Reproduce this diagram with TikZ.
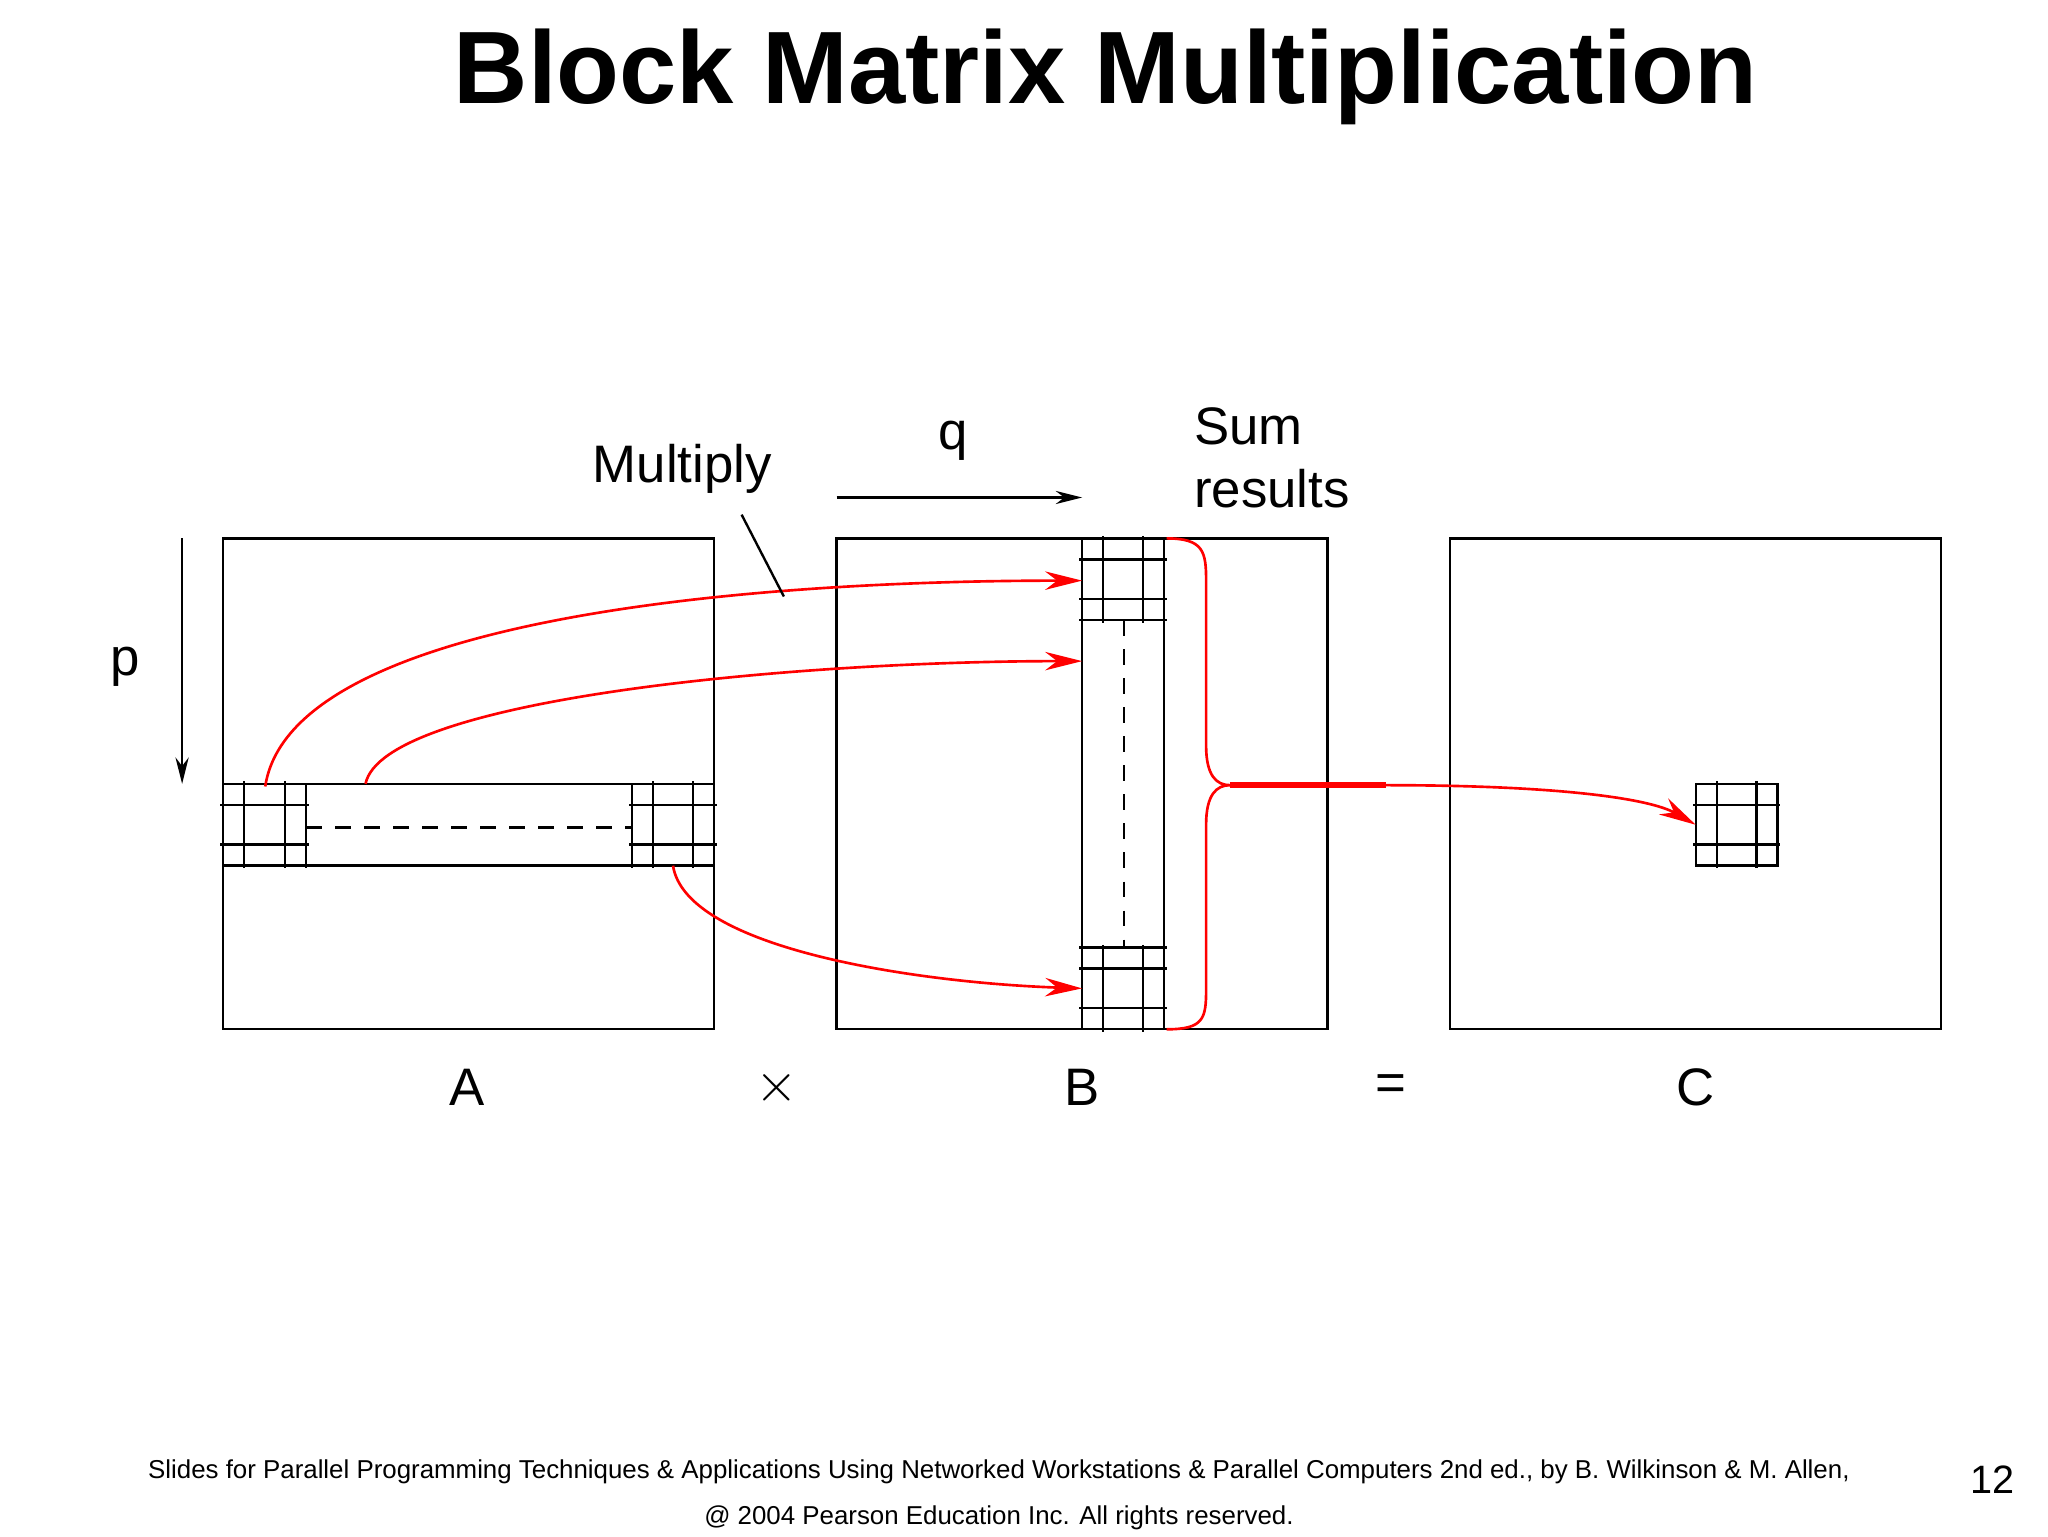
\documentclass[tikz,border=0pt]{standalone}
\usepackage{fontspec}
\setmainfont{Liberation Sans}
\usetikzlibrary{arrows.meta}
\begin{document}
\begin{tikzpicture}[x=0.5pt,y=-0.5pt,
  mat/.style={draw,line width=0.9pt},
  gl/.style={line width=0.9pt},
  red/.style={draw=red,line width=1pt,-{Stealth[length=14pt,width=7pt]}},
  lab/.style={font=\fontsize{20}{24}\selectfont},
  bk/.style={-{Stealth[length=10pt,width=5pt]},line width=0.9pt}]
\useasboundingbox (0,0) rectangle (1552,1164);
\node[font=\fontsize{39}{46}\selectfont\bfseries] (title) at (838,58) {Block Matrix Multiplication};
% matrices
\draw[mat] (169,408) rectangle (541,780) coordinate (Abr);
\draw[mat] (634,408) rectangle (1006,780);
\draw[mat] (1099,408) rectangle (1471,780);
% A row band
\draw[gl] (169,594) rectangle (541,656);
\draw[gl] (232,594)--(232,658) (479,594)--(479,658);
\foreach \x in {185,216,495,525} \draw[gl] (\x,592)--(\x,658);
\foreach \y in {610,640} {\draw[gl] (167,\y)--(234,\y); \draw[gl] (477,\y)--(543,\y);}
\draw[gl,dash pattern=on 6pt off 5pt] (232,627)--(479,627);
% B column band
\draw[gl] (820,408) rectangle (882,780);
\draw[gl] (818,470)--(884,470) (818,718)--(884,718);
\foreach \x in {836,866} {\draw[gl] (\x,406)--(\x,472); \draw[gl] (\x,716)--(\x,782);}
\foreach \y in {424,454,734,764} \draw[gl] (818,\y)--(884,\y);
\draw[gl,dash pattern=on 6pt off 5pt] (852,470)--(852,718);
% C block
\draw[gl] (1285,594) rectangle (1347,656);
\foreach \x in {1301,1331} \draw[gl] (\x,592)--(\x,658);
\foreach \y in {610,640} \draw[gl] (1283,\y)--(1349,\y);
\coordinate (a1) at (201,596); \coordinate (b1) at (820,440);
\coordinate (a2) at (277,594); \coordinate (b2) at (820,501);
\coordinate (a3) at (510,656); \coordinate (b3) at (820,749);
\coordinate (c1) at (1050,595); \coordinate (c2) at (1285,625);
\draw[red] (a1) .. controls (220,470) and (560,440) .. (b1);
\draw[red] (a2) .. controls (290,530) and (600,501) .. (b2);
\draw[red] (a3) .. controls (520,720) and (700,745) .. (b3);
% brace
\draw[red,-] (884,408) .. controls (912,408) and (914,418) .. (914,440) -- (914,565) .. controls (914,588) and (922,595) .. (932,595) .. controls (922,595) and (914,602) .. (914,625) -- (914,750) .. controls (914,772) and (912,780) .. (884,780);
\draw[draw=red,line width=2.5pt] (932,595)--(c1);
\draw[red] (c1) .. controls (1180,595) and (1250,605) .. (c2);
% p, q
\coordinate (p1) at (138,408); \coordinate (p2) at (138,594);
\draw[bk] (p1)--(p2);
\node[lab] (p) at (95,505) {p};
\coordinate (q1) at (634,377); \coordinate (q2) at (820,377);
\draw[bk] (q1)--(q2);
\node[lab] (q) at (722,334) {q};
\node[lab] (mul) at (517,355) {Multiply};
\coordinate (m1) at (562,390); \coordinate (m2) at (594,452);
\draw[line width=0.9pt] (m1)--(m2);
\node[lab,align=left,anchor=west] (sum) at (898,347) {Sum\\results};
\node[lab] (A) at (354,824) {A};
\node[lab] (x) at (589,824) {$\times$};
\node[lab] (B) at (820,824) {B};
\node[lab] (eq) at (1054,824) {=};
\node[lab] (C) at (1285,824) {C};
\node[font=\fontsize{9.8}{12}\selectfont] (f1) at (757,1115) {Slides for Parallel Programming Techniques \& Applications Using Networked Workstations \& Parallel Computers 2nd ed., by B. Wilkinson \& M. Allen,};
\node[font=\fontsize{9.8}{12}\selectfont] (f2) at (757,1150) {@ 2004 Pearson Education Inc. All rights reserved.};
\node[font=\fontsize{15}{18}\selectfont] (n) at (1510,1121) {12};
\end{tikzpicture}
\end{document}
